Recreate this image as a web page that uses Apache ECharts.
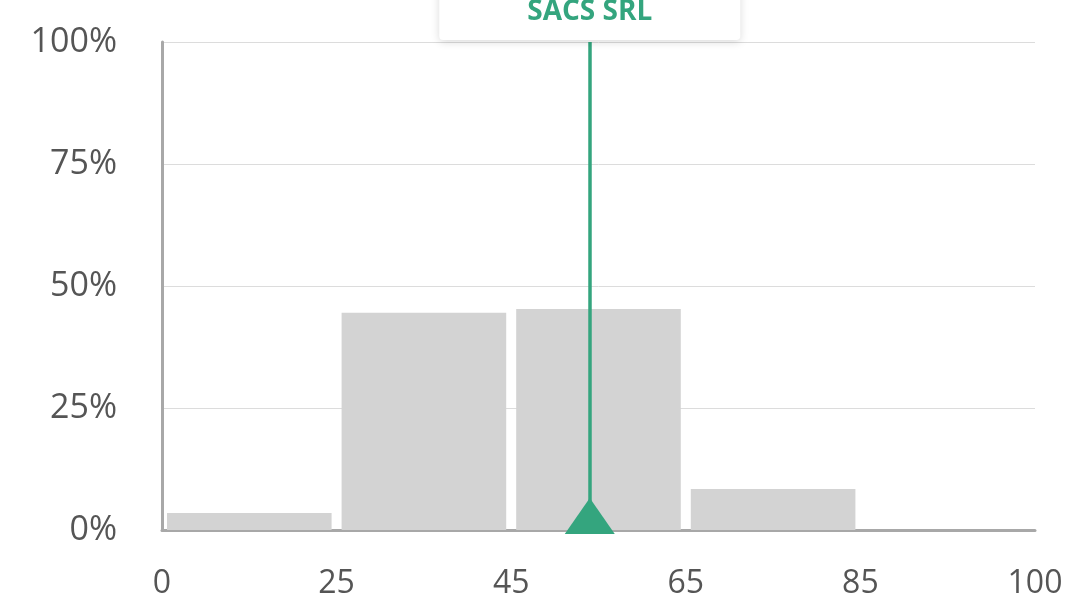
<!DOCTYPE html>
<html>
<head>
<meta charset="utf-8">
<script src="https://cdn.jsdelivr.net/npm/echarts@6/dist/echarts.min.js"></script>
<style>
  html, body { margin: 0; padding: 0; background: #fff; }
  #chart { width: 1072px; height: 606px; }
</style>
</head>
<body>
<div id="chart"></div>
<script>
// bin edges (x tick labels) and share of each bin in %
var binEdges = [0, 25, 45, 65, 85, 100];
var binValues = [3.5, 44.5, 45.3, 8.4, 0];
var markerName = 'SACS SRL';
var markerValue = 54;

// position of a real value on the evenly spaced bin axis
function toPos(v) {
  for (var i = 0; i < binEdges.length - 1; i++) {
    if (v <= binEdges[i + 1]) {
      return i + (v - binEdges[i]) / (binEdges[i + 1] - binEdges[i]);
    }
  }
  return binEdges.length - 1;
}

var bars = binValues.map(function (v, i) { return [i, i + 1, v]; });
var mpos = toPos(markerValue);
var green = '#34a57e';

var chart = echarts.init(document.getElementById('chart'));
var option = {
  animation: false,
  grid: { left: 162, right: 37, top: 42, bottom: 76 },
  xAxis: {
    type: 'value',
    min: 0,
    max: binEdges.length - 1,
    interval: 1,
    axisLine: { show: true, lineStyle: { color: '#a8a8a8', width: 3 } },
    axisTick: { show: false },
    splitLine: { show: false },
    axisLabel: {
      margin: 38,
      color: '#555',
      fontSize: 32,
      fontFamily: 'Open Sans',
      formatter: function (v) { return String(binEdges[v]); }
    }
  },
  yAxis: {
    type: 'value',
    min: 0,
    max: 100,
    interval: 25,
    axisLine: { show: true, lineStyle: { color: '#a8a8a8', width: 3 } },
    axisTick: { show: false },
    splitLine: { lineStyle: { color: '#dcdcdc', width: 1 } },
    axisLabel: {
      margin: 45,
      color: '#555',
      fontSize: 34,
      fontFamily: 'Open Sans',
      formatter: '{value}%'
    }
  },
  series: [
    {
      type: 'custom',
      data: bars,
      renderItem: function (params, api) {
        var p0 = api.coord([api.value(0), api.value(2)]);
        var p1 = api.coord([api.value(1), 0]);
        var gap = 5;
        return {
          type: 'rect',
          shape: { x: p0[0] + gap, y: p0[1], width: p1[0] - p0[0] - gap * 2, height: p1[1] - p0[1] },
          style: { fill: '#d3d3d3' }
        };
      },
      encode: { x: [0, 1], y: 2 },
      z: 2
    },
    {
      type: 'line',
      data: [],
      z: 5,
      markLine: {
        silent: true,
        symbol: 'none',
        lineStyle: { color: green, width: 3.5, type: 'solid' },
        label: {
          show: true,
          position: 'end',
          distance: 2,
          formatter: markerName,
          color: green,
          fontSize: 28,
          fontWeight: 'bold',
          fontFamily: 'Open Sans',
          backgroundColor: '#fff',
          borderRadius: 4,
          padding: [24, 88, 14, 88],
          shadowBlur: 8,
          shadowColor: 'rgba(0,0,0,0.15)',
          shadowOffsetY: 2
        },
        data: [[{ coord: [mpos, 0] }, { coord: [mpos, 100] }]]
      },
      markPoint: {
        silent: true,
        symbol: 'triangle',
        symbolSize: [50, 36],
        symbolOffset: [0, -14],
        itemStyle: { color: green },
        label: { show: false },
        data: [{ coord: [mpos, 0] }]
      }
    }
  ]
};
chart.setOption(option);
</script>
</body>
</html>
